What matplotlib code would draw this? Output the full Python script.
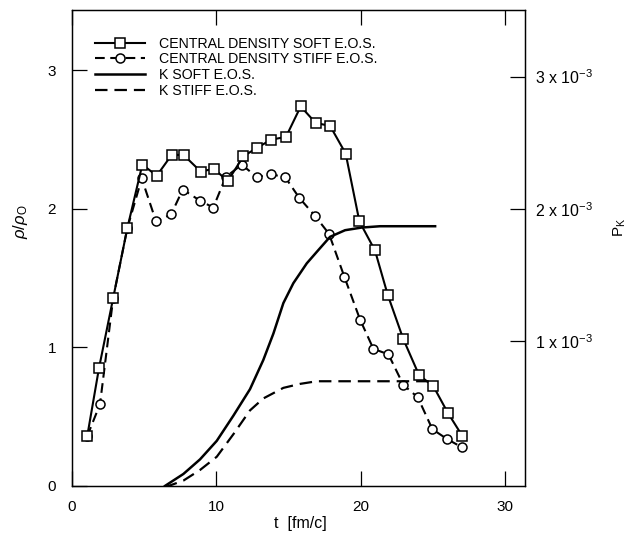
import matplotlib
matplotlib.use("Agg")
import matplotlib.pyplot as plt
from matplotlib.lines import Line2D

plt.rcParams['font.family'] = ['Liberation Sans', 'DejaVu Sans']
plt.rcParams['mathtext.fontset'] = 'custom'
plt.rcParams['mathtext.rm'] = 'Liberation Sans'
plt.rcParams['mathtext.it'] = 'Liberation Sans:italic'
plt.rcParams['lines.scale_dashes'] = False

# Central density, soft E.O.S. (rho/rho0)
t_soft = [1.09, 1.90, 2.89, 3.86, 4.90, 5.90, 6.93, 7.75, 8.94, 9.86, 10.81, 11.89,
          12.82, 13.81, 14.84, 15.86, 16.90, 17.89, 18.97, 19.92, 21.00, 21.88,
          22.96, 24.05, 25.04, 26.03, 27.05]
rho_soft = [0.36, 0.85, 1.36, 1.86, 2.32, 2.24, 2.39, 2.39, 2.27, 2.29, 2.20, 2.38,
            2.44, 2.50, 2.52, 2.74, 2.62, 2.60, 2.40, 1.91, 1.70, 1.38,
            1.06, 0.80, 0.72, 0.53, 0.36]

# Central density, stiff E.O.S. (rho/rho0)
t_stiff = [1.09, 1.97, 2.89, 3.86, 4.86, 5.85, 6.89, 7.70, 8.89, 9.81, 10.67, 11.78,
           12.82, 13.78, 14.78, 15.76, 16.85, 17.82, 18.88, 19.97, 20.89, 21.93,
           22.96, 23.96, 24.97, 25.97, 27.00]
rho_stiff = [0.36, 0.59, 1.36, 1.86, 2.22, 1.91, 1.96, 2.14, 2.06, 2.01, 2.23, 2.32,
             2.23, 2.25, 2.23, 2.08, 1.95, 1.82, 1.51, 1.20, 0.99, 0.95,
             0.73, 0.64, 0.41, 0.34, 0.28]

# Kaon probability P_K (units of 1e-3), right axis
t_ksoft = [6.47, 7.74, 8.89, 10.05, 11.20, 12.35, 13.27, 13.97, 14.66, 15.35,
           16.28, 17.08, 17.89, 18.93, 20.08, 21.35, 25.16]
pk_soft = [-0.09, 0.00, 0.11, 0.25, 0.44, 0.64, 0.86, 1.06, 1.29, 1.44,
           1.59, 1.69, 1.79, 1.84, 1.86, 1.87, 1.87]

t_kstiff = [6.47, 7.74, 8.89, 10.05, 11.20, 12.35, 13.27, 14.66, 15.81, 16.97,
            19.27, 25.00]
pk_stiff = [-0.10, -0.05, 0.03, 0.13, 0.30, 0.48, 0.57, 0.65, 0.68, 0.70,
            0.70, 0.70]

x_ticks = [0, 10, 20, 30]
y_ticks = [0, 1, 2, 3]
r_ticks = [1, 2, 3]
r_labels = ["1 x 10$^{-3}$", "2 x 10$^{-3}$", "3 x 10$^{-3}$"]

fig = plt.figure(figsize=(6.43, 5.35), dpi=100)
ax = fig.add_axes([0.1112, 0.0916, 0.7053, 0.8897])
ax2 = ax.twinx()

lw = 1.5
ax.plot(t_stiff, rho_stiff, color='black', lw=lw, dashes=(7, 4),
        marker='o', ms=6.5, mfc='white', mec='black', mew=1.1, zorder=3)
ax.plot(t_soft, rho_soft, color='black', lw=lw,
        marker='s', ms=7, mfc='white', mec='black', mew=1.1, zorder=4)
ax2.plot(t_ksoft, pk_soft, color='black', lw=1.8)
ax2.plot(t_kstiff, pk_stiff, color='black', lw=1.6, dashes=(9, 5))

ax.set_xlim(0, 31.38)
ax.set_ylim(0, 3.436)
ax2.set_ylim(-0.0906, 3.502)

ax.set_xticks(x_ticks)
ax.set_xticklabels([str(v) for v in x_ticks])
ax.set_yticks(y_ticks)
ax.set_yticklabels([str(v) for v in y_ticks])
ax2.set_yticks(r_ticks)
ax2.set_yticklabels(r_labels)

ax.tick_params(axis='both', direction='in', length=11, width=0.9, labelsize=11,
               top=True, right=False)
ax.tick_params(axis='x', pad=10)
ax.tick_params(axis='y', pad=11)
ax2.tick_params(axis='y', direction='in', length=11, width=0.9, labelsize=11.5, pad=7)

for a in (ax, ax2):
    for s in a.spines.values():
        s.set_linewidth(0.9)

ax.set_xlabel("t  [fm/c]", fontsize=11.5)
ax.xaxis.set_label_coords(0.504, -0.062)
ax.set_ylabel(r"$\rho$/$\rho_{\mathrm{O}}$", fontsize=12)
ax.yaxis.set_label_coords(-0.0915, 0.555)
ax2.set_ylabel(r"P$_{\mathrm{K}}$", fontsize=11, rotation=90)
ax2.yaxis.set_label_coords(1.19, 0.544)

handles = [
    Line2D([], [], color='black', lw=lw, marker='s', ms=7, mfc='white', mec='black', mew=1.1),
    Line2D([], [], color='black', lw=lw, dashes=(7, 4), marker='o', ms=6.5, mfc='white', mec='black', mew=1.1),
    Line2D([], [], color='black', lw=1.8),
    Line2D([], [], color='black', lw=1.6, dashes=(9, 5)),
]
labels = ["CENTRAL DENSITY SOFT E.O.S.", "CENTRAL DENSITY STIFF E.O.S.",
          "K SOFT E.O.S.", "K STIFF E.O.S."]
ax2.legend(handles, labels, loc='upper left', bbox_to_anchor=(0.052, 0.944),
           frameon=False, fontsize=10.2, handlelength=3.5, handletextpad=1.0,
           labelspacing=0.12, borderpad=0, borderaxespad=0, numpoints=1)

fig.savefig("out.png", dpi=100)
